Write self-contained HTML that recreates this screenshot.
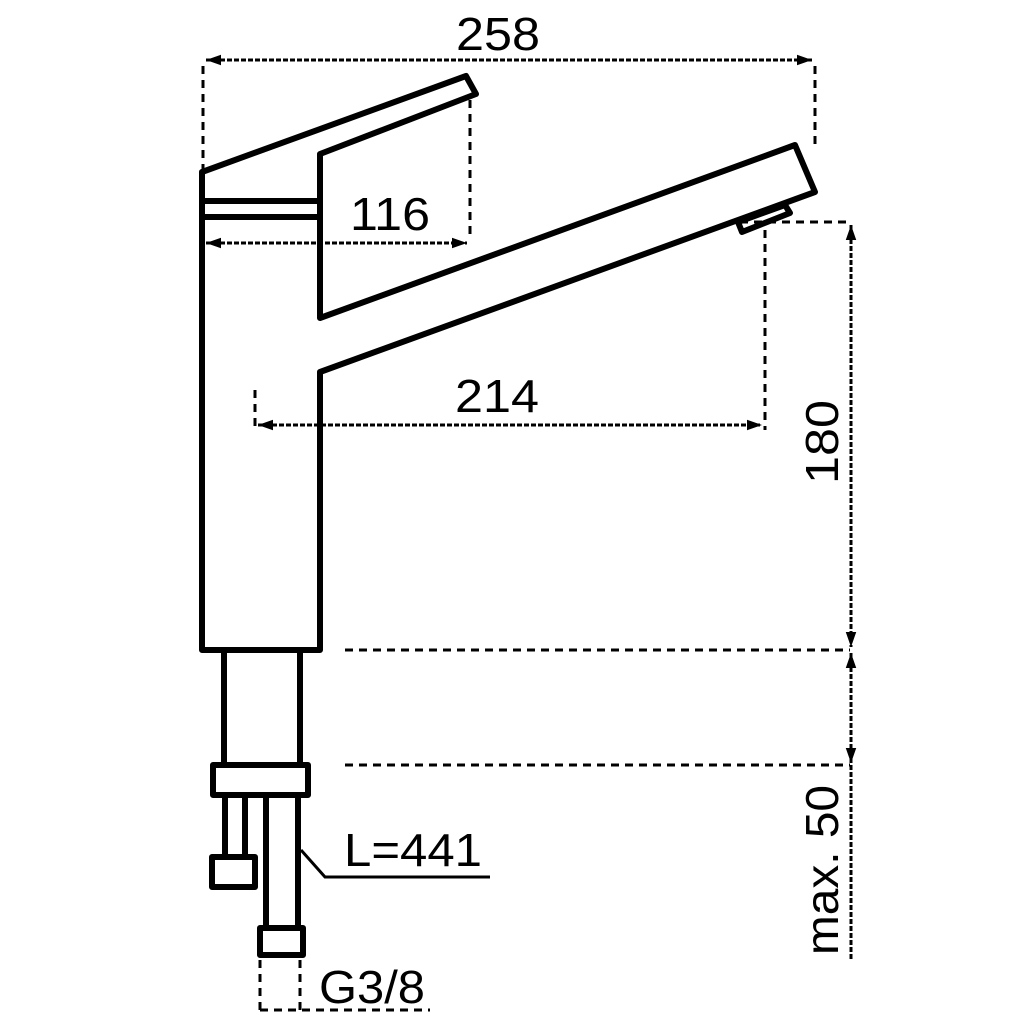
<!DOCTYPE html>
<html><head><style>body{margin:0;background:#fff}svg{display:block}</style></head>
<body>
<svg width="1024" height="1024" viewBox="0 0 1024 1024" xmlns="http://www.w3.org/2000/svg">
<defs>
<marker id="a" viewBox="0 0 10 10" refX="10" refY="5" markerWidth="5" markerHeight="5" orient="auto-start-reverse"><path d="M0,1.5 L10,5 L0,8.5 z" fill="#000"/></marker>
</defs>
<g fill="none" stroke="#000" stroke-width="6" stroke-linejoin="round">
<path d="M202,650 L202,172 L466,76 L476,94 L320,154 L320,318 L795,145 L815,192 L320,372 L320,650 Z" fill="#fff"/>
<line x1="202" y1="201" x2="320" y2="201"/>
<line x1="202" y1="217" x2="320" y2="217"/>
<path d="M738,222 L785,205 L790,213 L742,232 Z"/>
<rect x="224" y="650" width="76" height="115" fill="#fff"/>
<rect x="213" y="765" width="95" height="30" fill="#fff"/>
<rect x="225" y="795" width="20" height="62" fill="#fff"/>
<rect x="212" y="857" width="43" height="30" fill="#fff"/>
<rect x="266" y="795" width="32" height="133" fill="#fff"/>
<rect x="260" y="928" width="43" height="27" fill="#fff"/>
</g>
<g fill="none" stroke="#000" stroke-width="3">
<path d="M301,850 L325,877 L490,877"/>
<g stroke-dasharray="8,6">
<line x1="203" y1="66" x2="203" y2="170"/>
<line x1="815" y1="66" x2="815" y2="145"/>
<line x1="470" y1="100" x2="470" y2="240"/>
<line x1="255" y1="390" x2="255" y2="432"/>
<line x1="765" y1="230" x2="765" y2="430"/>
<line x1="740" y1="222" x2="850" y2="222"/>
<line x1="345" y1="650" x2="850" y2="650"/>
<line x1="345" y1="765" x2="850" y2="765"/>
<line x1="260" y1="960" x2="260" y2="1010"/>
<line x1="300" y1="960" x2="300" y2="1010"/>
<line x1="260" y1="1010" x2="430" y2="1010"/>
</g>
<g stroke-dasharray="5,2">
<line x1="206" y1="60" x2="812" y2="60" marker-start="url(#a)" marker-end="url(#a)"/>
<line x1="206" y1="243" x2="467" y2="243" marker-start="url(#a)" marker-end="url(#a)"/>
<line x1="258" y1="425" x2="762" y2="425" marker-start="url(#a)" marker-end="url(#a)"/>
<line x1="851" y1="225" x2="851" y2="647" marker-start="url(#a)" marker-end="url(#a)"/>
<line x1="851" y1="653" x2="851" y2="960" marker-start="url(#a)"/>
<line x1="851" y1="750" x2="851" y2="763" marker-end="url(#a)"/>
</g>
</g>
<g font-family="Liberation Sans, sans-serif" font-size="46" fill="#000">
<text x="498" y="50" text-anchor="middle" textLength="84" lengthAdjust="spacingAndGlyphs">258</text>
<text x="390" y="230" text-anchor="middle" textLength="80" lengthAdjust="spacingAndGlyphs">116</text>
<text x="497" y="412" text-anchor="middle" textLength="84" lengthAdjust="spacingAndGlyphs">214</text>
<text x="413" y="866" text-anchor="middle" textLength="138" lengthAdjust="spacingAndGlyphs">L=441</text>
<text x="372" y="1003" text-anchor="middle" textLength="106" lengthAdjust="spacingAndGlyphs">G3/8</text>
<text transform="translate(838,442) rotate(-90)" text-anchor="middle" textLength="84" lengthAdjust="spacingAndGlyphs">180</text>
<text transform="translate(838,870) rotate(-90)" text-anchor="middle" textLength="170" lengthAdjust="spacingAndGlyphs">max. 50</text>
</g>
</svg>
</body></html>
